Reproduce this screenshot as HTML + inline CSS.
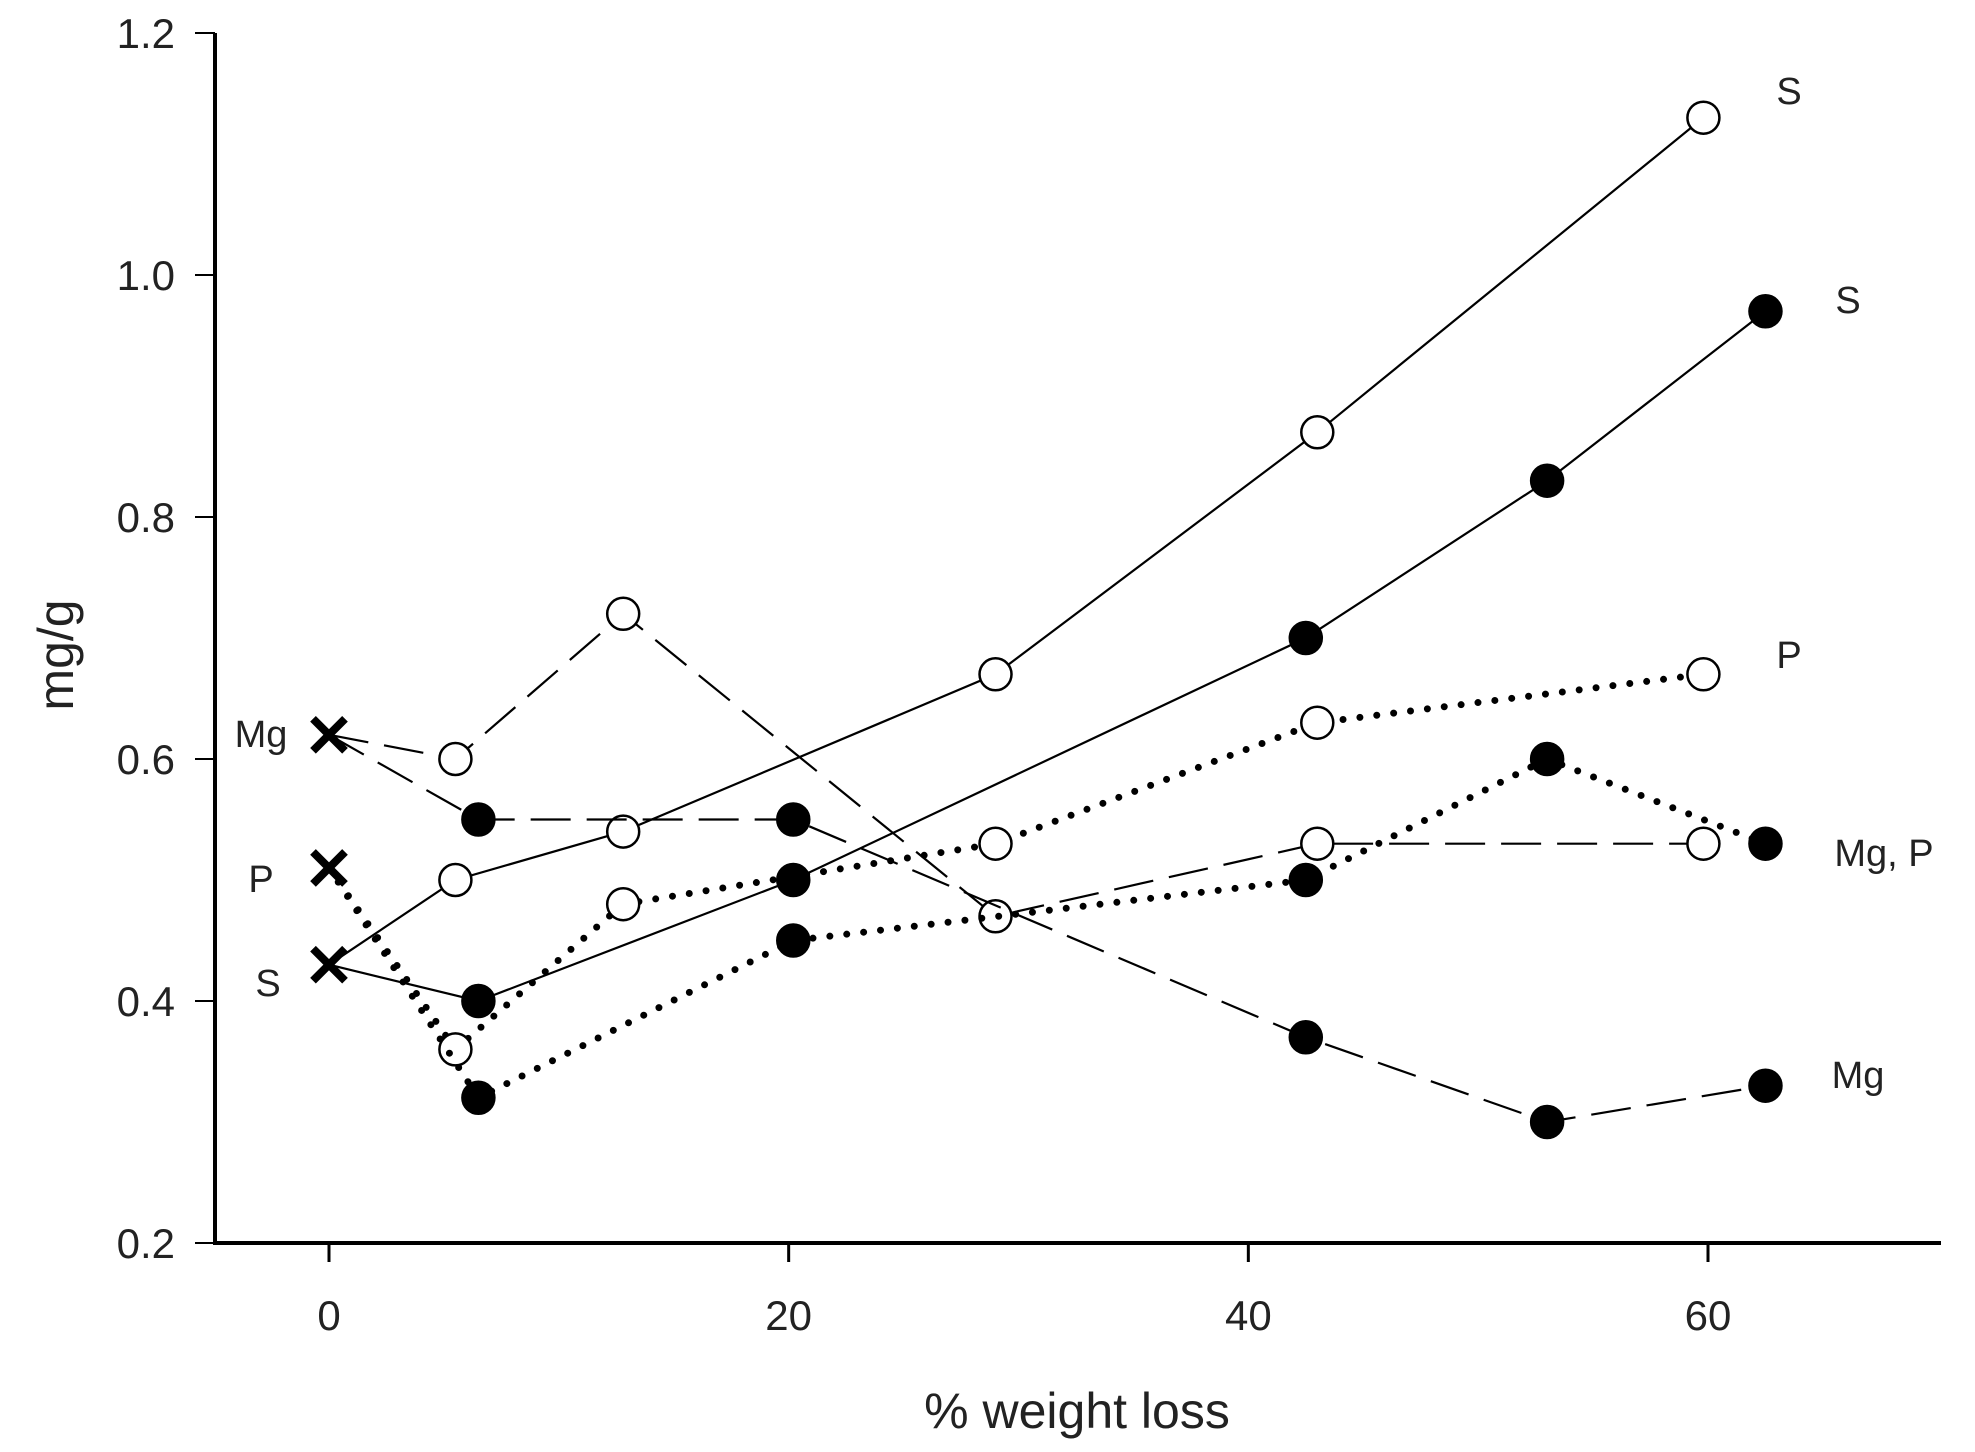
<!DOCTYPE html>
<html><head><meta charset="utf-8"><style>
html,body{margin:0;padding:0;background:#fff;}
svg{display:block;font-family:"Liberation Sans",Arial,sans-serif;}
</style></head><body>
<svg id="chart" width="1975" height="1452" viewBox="0 0 1975 1452" xmlns="http://www.w3.org/2000/svg">
<g id="axes"></g>
<g id="series"></g>
<g id="labels"></g>
</svg>
<script>
const xTicks = [0, 20, 40, 60];
const yTicks = [0.2, 0.4, 0.6, 0.8, 1.0, 1.2];
const xStart = [0];
const sOpenX = [0, 5.5, 12.8, 29, 43, 59.8];
const sOpenY = [0.43, 0.50, 0.54, 0.67, 0.87, 1.13];
const sFillX = [0, 6.5, 20.2, 42.5, 53, 62.5];
const sFillY = [0.43, 0.40, 0.50, 0.70, 0.83, 0.97];
const mgOpenX = [0, 5.5, 12.8, 29, 43, 59.8];
const mgOpenY = [0.62, 0.60, 0.72, 0.47, 0.53, 0.53];
const mgFillX = [0, 6.5, 20.2, 42.5, 53, 62.5];
const mgFillY = [0.62, 0.55, 0.55, 0.37, 0.30, 0.33];
const pOpenX = [0, 5.5, 12.8, 29, 43, 59.8];
const pOpenY = [0.51, 0.36, 0.48, 0.53, 0.63, 0.67];
const pFillX = [0, 6.5, 20.2, 42.5, 53, 62.5];
const pFillY = [0.51, 0.32, 0.45, 0.50, 0.60, 0.53];

const NS = "http://www.w3.org/2000/svg";
const X = v => 329 + (v - 0) * (1708 - 329) / 60;
const Y = v => 1243 - (v - 0.2) * (1243 - 33) / 1.0;
function mk(tag, attrs, parent) {
  const e = document.createElementNS(NS, tag);
  for (const k in attrs) e.setAttribute(k, attrs[k]);
  parent.appendChild(e);
  return e;
}
const axes = document.getElementById('axes');
const yAxis = mk('line', {x1:215, y1:33, x2:215, y2:1244, stroke:'#000', 'stroke-width':4}, axes);


const xAxis = mk('line', {x1:213, y1:1243, x2:1941, y2:1243, stroke:'#000', 'stroke-width':4}, axes);


yTicks.forEach(t => {
  const l = mk('line', {x1:195, y1:Y(t), x2:215, y2:Y(t), stroke:'#000', 'stroke-width':2}, axes);
  
  
  const tx = mk('text', {x:175, y:Y(t)+15, 'text-anchor':'end', 'font-size':42, fill:'#222'}, axes);
  tx.textContent = t.toFixed(1);
  
  
});
xTicks.forEach(t => {
  const l = mk('line', {x1:X(t), y1:1243, x2:X(t), y2:1262, stroke:'#000', 'stroke-width':3}, axes);
  
  
  const tx = mk('text', {x:X(t), y:1330, 'text-anchor':'middle', 'font-size':42, fill:'#222'}, axes);
  tx.textContent = t;
  
  
});
const xt = mk('text', {x:1077, y:1428, 'text-anchor':'middle', 'font-size':50, fill:'#222'}, axes);
xt.textContent = '% weight loss';


const yt = mk('text', {x:0, y:0, 'text-anchor':'middle', 'font-size':50, fill:'#222', transform:'translate(73,655) rotate(-90)'}, axes);
yt.textContent = 'mg/g';



const series = document.getElementById('series');
function drawSeries(name, xs, ys, dash, filled) {
  const g = mk('g', {}, series);
  
  
  const pts = xs.map((x, i) => X(x) + ',' + Y(ys[i])).join(' ');
  const pl = mk('polyline', {points:pts, fill:'none', stroke:'#000', 'stroke-width': dash==='dot'?7:2.2, 'stroke-dasharray': dash==='dash'?'40,16':(dash==='dot'?'0,17':'none'), 'stroke-linecap': dash==='dot'?'round':'butt'}, g);
  
  
  xs.forEach((x, i) => {
    if (i === 0) return;
    const c = mk('circle', {cx:X(x), cy:Y(ys[i]), r:16, fill: filled?'#000':'#fff', stroke:'#000', 'stroke-width':2.5}, g);
    
    
  });
}
drawSeries('s-open', sOpenX, sOpenY, 'solid', false);
drawSeries('s-filled', sFillX, sFillY, 'solid', true);
drawSeries('mg-open', mgOpenX, mgOpenY, 'dash', false);
drawSeries('mg-filled', mgFillX, mgFillY, 'dash', true);
drawSeries('p-open', pOpenX, pOpenY, 'dot', false);
drawSeries('p-filled', pFillX, pFillY, 'dot', true);
[sOpenY[0], mgOpenY[0], pOpenY[0]].forEach(v => {
  const x0 = X(xStart[0]), y0 = Y(v), d = 16;
  const p = mk('path', {d:`M${x0-d},${y0-d}L${x0+d},${y0+d}M${x0+d},${y0-d}L${x0-d},${y0+d}`, stroke:'#000', 'stroke-width':8}, series);
  
  
});

const labels = document.getElementById('labels');
[['S',1789,104,'label-s-open'],['S',1848,313,'label-s-filled'],['P',1789,668,'label-p-open'],
 ['Mg, P',1884,866,'label-mg-p'],['Mg',1858,1088,'label-mg-filled'],
 ['Mg',261,747,'label-mg-start'],['P',261,892,'label-p-start'],['S',268,996,'label-s-start']].forEach(a => {
  const t = mk('text', {x:a[1], y:a[2], 'text-anchor':'middle', 'font-size':38, fill:'#222'}, labels);
  t.textContent = a[0];
  
  
});
</script>
</body></html>
